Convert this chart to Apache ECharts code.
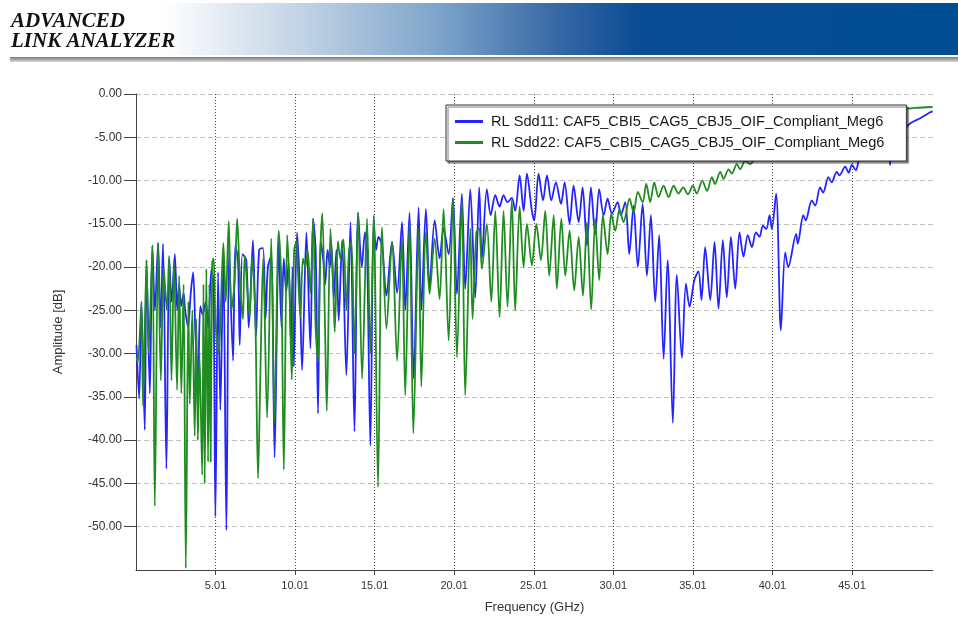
<!DOCTYPE html>
<html><head><meta charset="utf-8">
<script src="https://cdn.jsdelivr.net/npm/echarts@6/dist/echarts.min.js"></script>
<style>html,body{margin:0;padding:0;background:#fff}#c{width:958px;height:620px}</style>
</head><body><div id="c"></div>
<script>
// Frequency (GHz), amplitude (dB) pairs
const sdd11Points = [
[0.04,-29],[0.21,-35.2],[0.35,-24],[0.56,-38.8],[0.67,-19.2],[0.88,-34.6],[1.04,-17.5],[1.2,-25],[1.4,-17.2],[1.55,-27],[1.71,-17.3],[1.92,-43.3],[2.1,-19],[2.25,-24],[2.45,-18.5],[2.6,-25],[2.72,-22],[2.85,-24.5],[3.0,-23],[3.1,-25],[3.28,-26.9],[3.45,-23],[3.6,-20.6],[3.75,-28],[3.91,-33],[4.05,-24.5],[4.2,-25.5],[4.4,-24],[4.55,-27],[4.75,-20.2],[4.88,-22],[5.0,-48.8],[5.17,-20.6],[5.31,-36.5],[5.5,-19],[5.69,-50.4],[5.86,-18],[6.11,-30.8],[6.25,-17.5],[6.42,-19.2],[6.53,-29],[6.7,-18.5],[6.94,-19.2],[7.1,-27],[7.36,-16.9],[7.55,-28],[7.75,-18],[7.99,-17.8],[8.15,-26],[8.3,-20],[8.51,-18.7],[8.72,-42],
[8.98,-17],[9.15,-26.9],[9.3,-19],[9.45,-22.9],[9.6,-19.5],[9.75,-29],[9.85,-20],[9.93,-31.5],[10.13,-16],[10.3,-22],[10.45,-31.9],[10.72,-16],[10.97,-29.4],[11.14,-14.4],[11.3,-18],[11.45,-36.9],[11.6,-17],[11.77,-19],[11.9,-22],[12.05,-18],[12.2,-20],[12.3,-17.5],[12.44,-23.7],[12.6,-18],[12.75,-26.2],[12.96,-16.9],[13.23,-32.5],[13.49,-14.8],[13.74,-39],[13.97,-13.7],[14.2,-20],[14.4,-16],[14.53,-18],[14.74,-40.6],[14.95,-14.5],[15.1,-18],[15.25,-16.5],[15.47,-17.5],[15.75,-23.3],[16.1,-17.1],[16.42,-23],[16.73,-14.8],[16.93,-25],[17.2,-13.7],[17.46,-32.9],[17.77,-13.1],[17.94,-25],[18.23,-13.3],[18.46,-22.3],[18.78,-14.6],[19.09,-19],[19.34,-15.5],[19.66,-18.5],[19.93,-12],[20.18,-23.1],[20.49,-11.5],[20.7,-22.5],[21.02,-11],[21.33,-23.5],[21.58,-10.8],[21.75,-19],[22.06,-11],[22.3,-14],[22.59,-11.7],[22.86,-13],[23.11,-11.7],[23.36,-12.5],[23.63,-12],[23.84,-13.5],[24.12,-9.4],[24.37,-13.5],[24.58,-9.2],[24.89,-13.5],[25.04,-14.6],[25.31,-9.2],[25.59,-12.3],[25.84,-9.4],[26.11,-12.3],[26.4,-10.2],[26.72,-12.7],[26.95,-10.2],[27.26,-15],[27.51,-10.6],[27.83,-14.8],[28.08,-10.8],[28.35,-17.5],[28.6,-10.8],[28.87,-16.2],[29.12,-11],[29.4,-14],[29.65,-12.1],[29.92,-13.8],[30.28,-12.5],[30.48,-14],[30.76,-12.5],[31.01,-18.5],[31.28,-12.9],[31.55,-20],[31.85,-12.7],[32.12,-21],[32.37,-14],[32.64,-24],[32.89,-16.3],[33.17,-30.6],[33.42,-19.2],[33.75,-38],[34.0,-20.9],[34.32,-30.5],[34.57,-21.9],[34.8,-24.6],[35.1,-21.5],[35.36,-20.5],[35.55,-23.8],[35.78,-17.7],[36.1,-23.8],[36.37,-17.1],[36.62,-24.8],[36.89,-16.9],[37.14,-23.5],[37.4,-16.5],[37.67,-22.5],[37.94,-16],[38.19,-18.8],[38.46,-16.3],[38.72,-17.7],[38.97,-16],[39.2,-16.5],[39.41,-15.2],[39.62,-15.6],[39.83,-14],[39.97,-15.6],[40.24,-11.5],[40.54,-27.3],[40.81,-18.3],[41.0,-20],[41.5,-16.2],[41.6,-17.3],[41.95,-14],[42.1,-14.6],[42.48,-12.3],[42.7,-12.9],[43.0,-10.8],[43.2,-11.4],[43.52,-9.6],[43.73,-10.2],[44.05,-9],[44.22,-9.4],[44.58,-8.4],[44.8,-9.1],[45.0,-8.2],[45.25,-8.8],[45.5,-7.4],[46.0,-6.8],[46.5,-6.3],[47.0,-5.9],[47.35,-6.0],[47.4,-8.2],[47.45,-6.0],[47.6,-5.2],[48.2,-4.3],[48.66,-3.4],[49.3,-2.8],[49.92,-2.1],[50.08,-2.0]
];
const sdd22Points = [
[0.04,-30.4],[0.12,-31],[0.35,-24.2],[0.45,-36],[0.67,-19.2],[0.8,-30],[1.04,-17.5],[1.19,-47.6],[1.4,-17.2],[1.57,-33.1],[1.75,-20],[1.95,-25],[2.09,-18.7],[2.24,-33.1],[2.4,-19.5],[2.59,-34.2],[2.72,-21],[2.86,-34.6],[3.0,-22],[3.14,-54.8],[3.3,-24],[3.39,-35.8],[3.55,-25],[3.7,-39.5],[3.8,-26],[3.9,-40],[4.0,-30],[4.17,-44],[4.25,-22],[4.33,-45],[4.43,-20.2],[4.54,-42.5],[4.62,-22],[4.7,-42.5],[4.8,-19.5],[4.89,-19],[5.0,-26],[5.2,-30],[5.5,-17.2],[5.65,-24],[5.84,-14.7],[6.0,-25],[6.2,-22],[6.37,-14.4],[6.55,-22],[6.73,-26],[6.84,-18.7],[7.15,-25.8],[7.3,-19],[7.5,-25],[7.68,-44.4],[7.82,-33],[8.0,-19],[8.25,-37.4],[8.51,-16.7],[8.71,-38],[8.98,-15.8],[9.15,-22],[9.3,-43.4],[9.51,-16.3],[9.65,-22],[9.8,-33],[9.95,-18],[10.1,-17],[10.2,-21],[10.34,-25.8],[10.5,-19],[10.65,-20],[10.8,-18],[10.97,-23],[11.14,-14.4],[11.3,-27],[11.45,-31],[11.6,-18],[11.72,-13.8],[11.9,-27.9],[12.0,-36.6],[12.23,-15.6],[12.4,-22],[12.5,-27.5],[12.7,-17],[12.85,-19],[13.05,-16.8],[13.23,-25],[13.4,-18],[13.55,-17],[13.74,-30],[13.97,-13.7],[14.22,-32.9],[14.53,-14.4],[14.74,-30],[14.95,-14],[15.22,-45.4],[15.47,-15.4],[15.75,-27.1],[16.1,-17.1],[16.42,-30.8],[16.72,-16.7],[16.93,-34.8],[17.2,-15],[17.44,-39.2],[17.77,-15.5],[17.94,-33.8],[18.23,-16],[18.46,-23.1],[18.78,-16.7],[19.09,-23.7],[19.34,-13.3],[19.66,-28.5],[19.93,-12.1],[20.18,-30.4],[20.49,-12.3],[20.7,-34.8],[21.02,-15.5],[21.16,-26],[21.4,-16],[21.58,-15.5],[21.75,-20.2],[22.06,-15],[22.34,-24],[22.59,-13.5],[22.86,-25.8],[23.11,-13.5],[23.36,-24.6],[23.63,-12.2],[23.84,-25],[24.12,-13],[24.37,-20],[24.58,-15],[24.89,-19.8],[25.17,-15],[25.46,-19.2],[25.73,-13.5],[25.98,-21],[26.26,-14],[26.46,-22.5],[26.74,-14.4],[26.99,-21],[27.26,-15.8],[27.55,-22.7],[27.83,-16.5],[28.1,-23.3],[28.35,-14.8],[28.62,-24.9],[28.87,-14.4],[29.12,-21.5],[29.35,-14],[29.65,-18.5],[29.88,-13.8],[30.13,-15.8],[30.4,-13.3],[30.65,-14.8],[31.03,-12.1],[31.28,-13.7],[31.55,-11.3],[31.85,-12.5],[32.08,-10.4],[32.33,-12.5],[32.58,-10.2],[32.85,-11.9],[33.17,-10.6],[33.48,-11.9],[33.8,-10.6],[34.1,-11.5],[34.4,-10.8],[34.7,-11.6],[35.0,-10.6],[35.25,-11.5],[35.6,-10],[35.9,-11.2],[36.2,-9.6],[36.4,-10.4],[36.73,-9],[36.94,-9.8],[37.25,-8.7],[37.46,-9.2],[37.77,-8.1],[37.98,-8.7],[38.3,-7.7],[38.6,-8.1],[39.0,-7.2],[39.5,-6.8],[40.0,-6.2],[41.0,-5.5],[42.0,-4.8],[43.0,-4.2],[44.0,-3.6],[45.0,-3.0],[46.0,-2.5],[47.0,-2.1],[48.0,-1.8],[49.0,-1.6],[50.08,-1.5]
];
const seriesNames = [
  'RL Sdd11: CAF5_CBI5_CAG5_CBJ5_OIF_Compliant_Meg6',
  'RL Sdd22: CAF5_CBI5_CAG5_CBJ5_OIF_Compliant_Meg6'
];
const xTickValues = [5.01, 10.01, 15.01, 20.01, 25.01, 30.01, 35.01, 40.01, 45.01];
const yTickValues = [0, -5, -10, -15, -20, -25, -30, -35, -40, -45, -50];

const chart = echarts.init(document.getElementById('c'), null, {renderer: 'canvas'});
const option = {
  animation: false,
  backgroundColor: '#fff',
  graphic: [
    {type: 'rect', left: 10, top: 3, shape: {width: 948, height: 52}, z: 0,
     style: {fill: new echarts.graphic.LinearGradient(0, 0, 1, 0, [
       {offset: 0, color: '#ffffff'}, {offset: 0.16, color: '#ffffff'},
       {offset: 0.32, color: '#bccfe3'}, {offset: 0.45, color: '#7ea5cb'},
       {offset: 0.58, color: '#3567a5'}, {offset: 0.66, color: '#0b4d94'},
       {offset: 1, color: '#004d95'}])}},
    {type: 'rect', left: 10, top: 57, shape: {width: 948, height: 5}, z: 0,
     style: {fill: new echarts.graphic.LinearGradient(0, 0, 0, 1, [
       {offset: 0, color: '#7a7a7a'}, {offset: 1, color: '#d8d8d8'}])}},
    {type: 'text', left: 11, top: 11, z: 1,
     style: {text: 'ADVANCED', font: 'italic bold 21px "Liberation Serif"', fill: '#111'}},
    {type: 'text', left: 11, top: 31, z: 1,
     style: {text: 'LINK ANALYZER', font: 'italic bold 21px "Liberation Serif"', fill: '#111'}}
  ],
  grid: {left: 136, right: 25, top: 94, bottom: 50, containLabel: false},
  legend: {
    data: seriesNames,
    orient: 'vertical',
    left: 446, top: 105,
    padding: [9, 22, 11, 9],
    itemGap: 6,
    itemWidth: 28, itemHeight: 3,
    icon: 'rect',
    backgroundColor: '#fff',
    borderColor: '#333', borderWidth: 1,
    shadowColor: 'rgba(0,0,0,0.55)', shadowOffsetX: 2, shadowOffsetY: 2, shadowBlur: 1,
    textStyle: {fontFamily: '"Liberation Sans", Arial', fontSize: 14.6, color: '#1a1a1a', padding: [0, 0, 0, 3]}
  },
  xAxis: {
    type: 'value', min: 0.01, max: 50.1,
    name: 'Frequency (GHz)', nameLocation: 'middle', nameGap: 31,
    nameTextStyle: {fontFamily: '"Liberation Sans", Arial', fontSize: 13, color: '#333'},
    axisLine: {show: true, onZero: false, lineStyle: {color: '#444', width: 1}},
    axisTick: {show: true, customValues: xTickValues, length: 5, lineStyle: {color: '#444'}},
    axisLabel: {customValues: xTickValues, formatter: v => v.toFixed(2), margin: 10,
      fontFamily: '"Liberation Sans", Arial', fontSize: 11, color: '#333'},
    splitLine: {show: true, lineStyle: {color: '#444', type: [1, 2], width: 1}}
  },
  yAxis: {
    type: 'value', min: -55, max: 0, interval: 5,
    name: 'Amplitude [dB]', nameLocation: 'middle', nameGap: 71,
    nameTextStyle: {fontFamily: '"Liberation Sans", Arial', fontSize: 13, color: '#333'},
    axisLine: {show: true, onZero: false, lineStyle: {color: '#444', width: 1}},
    axisTick: {show: true, customValues: yTickValues, length: 12, lineStyle: {color: '#444'}},
    axisLabel: {customValues: yTickValues, formatter: v => v.toFixed(2), margin: 14,
      fontFamily: '"Liberation Sans", Arial', fontSize: 12, color: '#333'},
    splitLine: {show: true, lineStyle: {color: '#bdbdbd', type: [5, 3], width: 1}}
  },
  series: [
    {name: seriesNames[0], type: 'line', data: sdd11Points, symbol: 'none', showSymbol: false,
     smooth: 0.3, color: '#2424ff', lineStyle: {width: 1.8, color: '#2424ff'}, z: 2},
    {name: seriesNames[1], type: 'line', data: sdd22Points, symbol: 'none', showSymbol: false,
     smooth: 0.3, color: '#1f8c1f', lineStyle: {width: 1.8, color: '#1f8c1f'}, z: 3}
  ]
};
chart.setOption(option);
</script>
</body></html>
